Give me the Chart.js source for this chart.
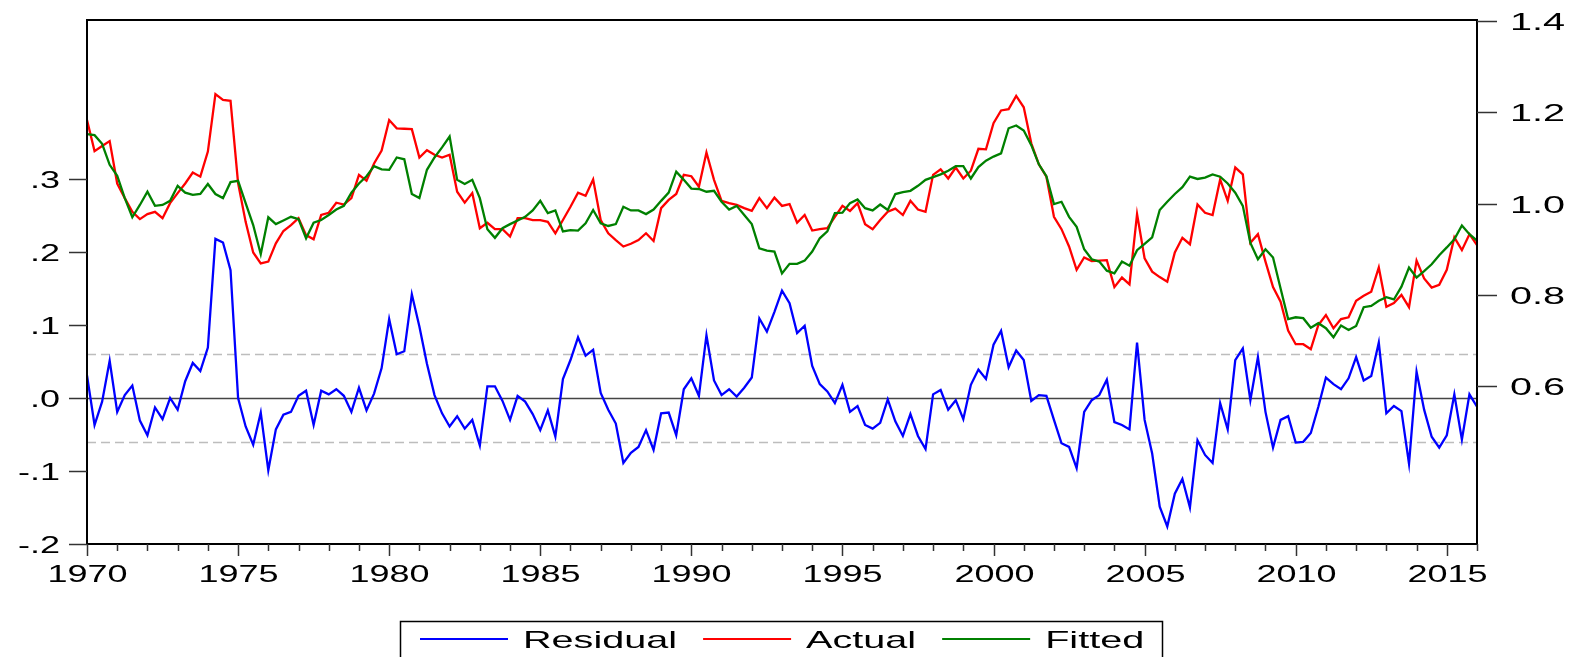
<!DOCTYPE html>
<html>
<head>
<meta charset="utf-8">
<script src="https://cdn.jsdelivr.net/npm/chart.js@4.4.1/dist/chart.umd.min.js"></script>
<style>
  html, body { margin: 0; padding: 0; background: #fff; }
  #wrap { width: 1571px; height: 657px; }
</style>
</head>
<body>
<div id="wrap"><canvas id="chart" width="1571" height="657"></canvas></div>
<script>
// quarterly series, 1970Q1 .. 2016Q1
var startYear = 1970;

var residual = [
  0.031, -0.037, -0.005, 0.051, -0.019, 0.004, 0.017, -0.031, -0.051, -0.013,
  -0.029, 0.000, -0.016, 0.023, 0.048, 0.037, 0.069, 0.218, 0.213, 0.175,
  0.000, -0.039, -0.064, -0.020, -0.099, -0.043, -0.023, -0.019, 0.003, 0.010,
  -0.037, 0.010, 0.005, 0.012, 0.003, -0.019, 0.014, -0.017, 0.006, 0.041,
  0.108, 0.060, 0.064, 0.142, 0.098, 0.047, 0.004, -0.021, -0.039, -0.025,
  -0.042, -0.030, -0.065, 0.016, 0.016, -0.004, -0.030, 0.003, -0.005, -0.022,
  -0.044, -0.017, -0.053, 0.026, 0.052, 0.083, 0.058, 0.066, 0.007, -0.016,
  -0.035, -0.089, -0.075, -0.067, -0.044, -0.071, -0.021, -0.020, -0.051, 0.012,
  0.027, 0.003, 0.086, 0.024, 0.004, 0.012, 0.002, 0.014, 0.028, 0.109,
  0.091, 0.118, 0.147, 0.130, 0.089, 0.099, 0.044, 0.019, 0.009, -0.007,
  0.018, -0.019, -0.011, -0.037, -0.042, -0.034, -0.002, -0.032, -0.052, -0.022,
  -0.052, -0.070, 0.005, 0.011, -0.016, -0.003, -0.029, 0.018, 0.039, 0.026,
  0.073, 0.092, 0.042, 0.065, 0.052, -0.004, 0.004, 0.003, -0.030, -0.062,
  -0.067, -0.096, -0.019, -0.003, 0.004, 0.025, -0.033, -0.037, -0.043, 0.076,
  -0.030, -0.076, -0.149, -0.176, -0.131, -0.111, -0.150, -0.058, -0.078, -0.089,
  -0.007, -0.043, 0.052, 0.068, -0.003, 0.056, -0.019, -0.068, -0.030, -0.025,
  -0.061, -0.060, -0.048, -0.012, 0.028, 0.019, 0.012, 0.027, 0.056, 0.024,
  0.030, 0.076, -0.021, -0.011, -0.018, -0.090, 0.036, -0.016, -0.053, -0.068,
  -0.051, 0.005, -0.057, 0.005, -0.012
];

var actual = [
  1.183, 1.115, 1.126, 1.137, 1.044, 1.012, 0.982, 0.966, 0.977, 0.982,
  0.968, 1.001, 1.023, 1.044, 1.068, 1.059, 1.114, 1.240, 1.227, 1.225,
  1.045, 0.960, 0.893, 0.869, 0.873, 0.913, 0.940, 0.953, 0.968, 0.931,
  0.922, 0.975, 0.980, 1.002, 0.998, 1.012, 1.063, 1.050, 1.088, 1.116,
  1.183, 1.165, 1.164, 1.163, 1.101, 1.117, 1.107, 1.101, 1.107, 1.026,
  1.002, 1.023, 0.946, 0.958, 0.944, 0.944, 0.928, 0.968, 0.968, 0.964,
  0.964, 0.960, 0.935, 0.964, 0.993, 1.024, 1.017, 1.053, 0.964, 0.935,
  0.920, 0.906, 0.912, 0.920, 0.935, 0.918, 0.990, 1.008, 1.021, 1.063,
  1.060, 1.037, 1.112, 1.052, 1.006, 1.001, 0.997, 0.990, 0.984, 1.012,
  0.990, 1.013, 0.995, 0.999, 0.958, 0.975, 0.941, 0.944, 0.946, 0.971,
  0.995, 0.984, 1.001, 0.955, 0.944, 0.964, 0.982, 0.989, 0.975, 1.006,
  0.987, 0.982, 1.063, 1.075, 1.055, 1.079, 1.055, 1.072, 1.120, 1.119,
  1.176, 1.204, 1.207, 1.236, 1.211, 1.132, 1.086, 1.059, 0.971, 0.944,
  0.906, 0.855, 0.882, 0.874, 0.875, 0.876, 0.817, 0.838, 0.823, 0.977,
  0.880, 0.851, 0.839, 0.829, 0.893, 0.925, 0.911, 0.998, 0.980, 0.975,
  1.053, 1.006, 1.079, 1.064, 0.914, 0.933, 0.873, 0.817, 0.785, 0.722,
  0.692, 0.692, 0.681, 0.734, 0.756, 0.727, 0.747, 0.751, 0.787, 0.798,
  0.807, 0.860, 0.774, 0.782, 0.800, 0.773, 0.875, 0.836, 0.816, 0.822,
  0.855, 0.926, 0.898, 0.933, 0.909
];

var fitted = [
  1.152, 1.150, 1.131, 1.085, 1.061, 1.012, 0.970, 0.997, 1.026, 0.995,
  0.997, 1.006, 1.039, 1.024, 1.019, 1.021, 1.043, 1.021, 1.012, 1.047,
  1.050, 1.001, 0.953, 0.889, 0.970, 0.955, 0.963, 0.971, 0.966, 0.924,
  0.958, 0.964, 0.975, 0.987, 0.995, 1.024, 1.044, 1.060, 1.082, 1.075,
  1.074, 1.101, 1.097, 1.021, 1.012, 1.074, 1.101, 1.123, 1.147, 1.052,
  1.043, 1.052, 1.012, 0.944, 0.925, 0.946, 0.955, 0.963, 0.971, 0.985,
  1.006, 0.979, 0.985, 0.939, 0.942, 0.941, 0.957, 0.986, 0.957, 0.951,
  0.955, 0.993, 0.985, 0.985, 0.977, 0.987, 1.006, 1.024, 1.070, 1.052,
  1.033, 1.032, 1.026, 1.028, 1.004, 0.987, 0.995, 0.975, 0.955, 0.902,
  0.897, 0.895, 0.847, 0.868, 0.868, 0.875, 0.895, 0.924, 0.939, 0.979,
  0.980, 1.001, 1.009, 0.990, 0.985, 0.998, 0.986, 1.021, 1.025, 1.028,
  1.039, 1.052, 1.058, 1.064, 1.072, 1.082, 1.082, 1.055, 1.080, 1.094,
  1.103, 1.110, 1.165, 1.171, 1.160, 1.128, 1.086, 1.060, 0.999, 1.004,
  0.971, 0.949, 0.900, 0.878, 0.873, 0.853, 0.847, 0.873, 0.864, 0.898,
  0.912, 0.926, 0.986, 1.004, 1.021, 1.036, 1.059, 1.054, 1.057, 1.064,
  1.059, 1.044, 1.024, 0.995, 0.914, 0.878, 0.900, 0.882, 0.814, 0.747,
  0.751, 0.749, 0.728, 0.738, 0.727, 0.707, 0.733, 0.723, 0.732, 0.773,
  0.776, 0.787, 0.795, 0.790, 0.818, 0.860, 0.838, 0.852, 0.867, 0.887,
  0.904, 0.922, 0.952, 0.933, 0.919
];

var yearLabels = ['1970', '1975', '1980', '1985', '1990', '1995', '2000', '2005', '2010', '2015'];
var leftTicks = [-0.2, -0.1, 0, 0.1, 0.2, 0.3];
var leftTickText = ['-.2', '-.1', '.0', '.1', '.2', '.3'];
var rightTicks = [0.6, 0.8, 1.0, 1.2, 1.4];
var rightTickText = ['0.6', '0.8', '1.0', '1.2', '1.4'];
var bandLevel = 0.06; // dashed +/- band around zero

var seriesNames = ['Residual', 'Actual', 'Fitted'];
var seriesColors = ['#0000ff', '#ff0000', '#008000'];

var labels = [];
for (var i = 0; i < actual.length; i++) {
  labels.push((startYear + Math.floor(i / 4)) + 'Q' + (i % 4 + 1));
}

var FONT = '24px "Liberation Sans", Arial, sans-serif';
var STRETCH = 1.5;

// EViews text is drawn horizontally stretched
function wideText(ctx, text, x, y, align, sx) {
  ctx.save();
  ctx.translate(x, y);
  ctx.scale(sx, 1);
  ctx.textAlign = align;
  ctx.textBaseline = 'alphabetic';
  ctx.fillText(text, 0, 0);
  ctx.restore();
}

var eviewsFrame = {
  id: 'eviewsFrame',
  beforeDatasetsDraw: function(chart) {
    var ctx = chart.ctx, a = chart.chartArea, yL = chart.scales.yL;
    ctx.save();
    ctx.lineWidth = 1.5;
    ctx.strokeStyle = '#bdbdbd';
    ctx.setLineDash([9, 5]);
    [bandLevel, -bandLevel].forEach(function(v) {
      var y = Math.round(yL.getPixelForValue(v)) + 0.5;
      ctx.beginPath(); ctx.moveTo(a.left, y); ctx.lineTo(a.right, y); ctx.stroke();
    });
    ctx.setLineDash([]);
    ctx.strokeStyle = '#444';
    var y0 = Math.round(yL.getPixelForValue(0)) + 0.5;
    ctx.beginPath(); ctx.moveTo(a.left, y0); ctx.lineTo(a.right, y0); ctx.stroke();
    ctx.restore();
  },
  afterDraw: function(chart) {
    var ctx = chart.ctx, a = chart.chartArea;
    var x = chart.scales.x, yL = chart.scales.yL, yR = chart.scales.yR;
    ctx.save();
    ctx.strokeStyle = '#000';
    ctx.fillStyle = '#000';
    ctx.lineWidth = 2;
    ctx.strokeRect(a.left, a.top, a.right - a.left, a.bottom - a.top);

    ctx.font = FONT;
    ctx.lineWidth = 1.5;
    ctx.strokeStyle = '#333';
    // left axis
    leftTicks.forEach(function(v, k) {
      var py = Math.round(yL.getPixelForValue(v)) + 0.5;
      ctx.beginPath(); ctx.moveTo(a.left - 18, py); ctx.lineTo(a.left, py); ctx.stroke();
      wideText(ctx, leftTickText[k], a.left - 27, py + 8.5, 'right', STRETCH);
    });
    // right axis
    rightTicks.forEach(function(v, k) {
      var py = Math.round(yR.getPixelForValue(v)) + 0.5;
      ctx.beginPath(); ctx.moveTo(a.right, py); ctx.lineTo(a.right + 20, py); ctx.stroke();
      wideText(ctx, rightTickText[k], a.right + 33, py + 8.5, 'left', 1.65);
    });
    // year ticks, labels every 5 years
    for (var yr = startYear; (yr - startYear) * 4 < labels.length; yr++) {
      var idx = (yr - startYear) * 4;
      var px = Math.round(x.getPixelForValue(idx)) + 0.5;
      var major = (yr - startYear) % 5 === 0;
      ctx.beginPath(); ctx.moveTo(px, a.bottom); ctx.lineTo(px, a.bottom + (major ? 12 : 7)); ctx.stroke();
      var lab = yearLabels.indexOf(String(yr));
      if (lab >= 0) wideText(ctx, yearLabels[lab], px, a.bottom + 38, 'center', STRETCH);
    }

    // legend box
    var lx = 420, ly = 639, sx = 1.65;
    var widths = seriesNames.map(function(n) { return ctx.measureText(n).width * sx; });
    ctx.strokeStyle = '#000';
    ctx.lineWidth = 1.5;
    ctx.strokeRect(400.5, 621.5, 762, 60);
    seriesNames.forEach(function(n, k) {
      ctx.strokeStyle = seriesColors[k];
      ctx.lineWidth = 2;
      ctx.beginPath(); ctx.moveTo(lx, ly); ctx.lineTo(lx + 88, ly); ctx.stroke();
      ctx.fillStyle = '#000';
      wideText(ctx, n, lx + 103, ly + 8.5, 'left', sx);
      lx += 103 + widths[k] + 26;
    });
    ctx.restore();
  }
};

var ctx = document.getElementById('chart').getContext('2d');
var chart = new Chart(ctx, {
  type: 'line',
  data: {
    labels: labels,
    datasets: [
      { label: seriesNames[0], data: residual, yAxisID: 'yL', borderColor: seriesColors[0], order: 2 },
      { label: seriesNames[1], data: actual, yAxisID: 'yR', borderColor: seriesColors[1], order: 1 },
      { label: seriesNames[2], data: fitted, yAxisID: 'yR', borderColor: seriesColors[2], order: 0 }
    ]
  },
  options: {
    responsive: false,
    animation: false,
    devicePixelRatio: 1,
    layout: { padding: { top: 20, left: 0, right: 0, bottom: 0 } },
    elements: {
      point: { radius: 0, hoverRadius: 0 },
      line: { borderWidth: 2.3, tension: 0, fill: false }
    },
    plugins: { legend: { display: false }, tooltip: { enabled: false } },
    scales: {
      x: {
        type: 'category',
        grid: { display: false },
        border: { display: false },
        ticks: { display: false },
        afterFit: function(s) { s.height = 113; }
      },
      yL: {
        position: 'left',
        min: -0.2, max: 0.5178,
        grid: { display: false },
        border: { display: false },
        ticks: { display: false },
        afterFit: function(s) { s.width = 87; }
      },
      yR: {
        position: 'right',
        min: 0.2543, max: 1.4022,
        grid: { display: false },
        border: { display: false },
        ticks: { display: false },
        afterFit: function(s) { s.width = 94; }
      }
    }
  },
  plugins: [eviewsFrame]
});
</script>
</body>
</html>
